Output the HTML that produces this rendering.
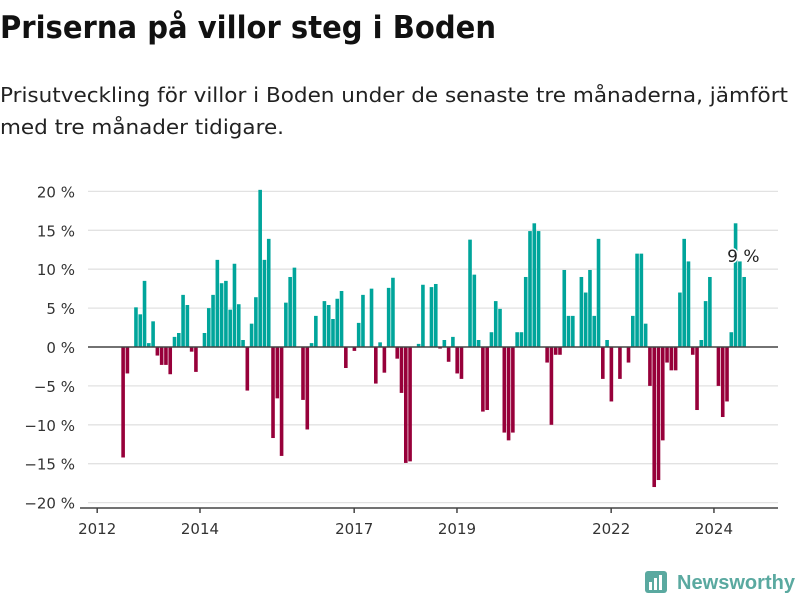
<!DOCTYPE html>
<html><head><meta charset="utf-8"><style>
body{margin:0;background:#fff;width:800px;height:600px;overflow:hidden;font-family:"Liberation Sans",sans-serif}
</style></head><body>
<svg width="800" height="600" viewBox="0 0 800 600">
<text x="0" y="38" font-size="31" font-weight="bold" fill="#111" textLength="496" lengthAdjust="spacingAndGlyphs" font-family="DejaVu Sans, sans-serif">Priserna på villor steg i Boden</text>
<text x="0" y="102" font-size="20" fill="#222" textLength="788" lengthAdjust="spacingAndGlyphs" font-family="DejaVu Sans, sans-serif">Prisutveckling för villor i Boden under de senaste tre månaderna, jämfört</text>
<text x="0" y="134" font-size="20" fill="#222" textLength="284" lengthAdjust="spacingAndGlyphs" font-family="DejaVu Sans, sans-serif">med tre månader tidigare.</text>
<g id="grid"></g><g id="bars"></g><g id="axes"></g>
<g>
<rect x="645" y="571" width="22" height="22" rx="3" fill="#5aa9a0"/>
<rect x="649" y="582" width="3" height="8" fill="#fff"/><rect x="654" y="578" width="3" height="12" fill="#fff"/><rect x="659" y="575" width="3" height="15" fill="#fff"/>
<text x="677" y="589" font-size="20" font-weight="bold" fill="#5aa9a0" textLength="118" lengthAdjust="spacingAndGlyphs" font-family="Liberation Sans, sans-serif">Newsworthy</text>
</g>
</svg>
<script>
const months=[5,6,8,9,10,11,12,13,14,15,16,17,18,19,20,21,22,24,25,26,27,28,29,30,31,32,33,34,35,36,37,38,39,40,41,42,43,44,45,47,48,49,50,52,53,54,55,56,57,59,60,61,63,64,65,66,67,68,69,70,71,72,74,75,77,78,79,80,81,82,83,84,86,87,88,89,90,91,92,93,94,95,96,97,98,99,100,101,102,104,105,106,107,108,109,110,112,113,114,115,116,117,118,119,121,123,124,125,126,127,128,129,130,131,132,133,134,135,136,137,138,139,140,141,142,144,145,146,147,148,149,150];
const values=[-14.2,-3.4,5.1,4.2,8.5,0.5,3.3,-1.1,-2.3,-2.3,-3.5,1.3,1.8,6.7,5.4,-0.6,-3.2,1.8,5.0,6.7,11.2,8.2,8.5,4.8,10.7,5.5,0.9,-5.6,3.0,6.4,20.2,11.2,13.9,-11.7,-6.6,-14.0,5.7,9.0,10.2,-6.8,-10.6,0.5,4.0,5.9,5.4,3.6,6.2,7.2,-2.7,-0.5,3.1,6.7,7.5,-4.7,0.6,-3.3,7.6,8.9,-1.5,-5.9,-14.9,-14.7,0.4,8.0,7.7,8.1,-0.2,0.9,-1.9,1.3,-3.4,-4.1,13.8,9.3,0.9,-8.3,-8.1,1.9,5.9,4.9,-11.0,-12.0,-11.0,1.9,1.9,9.0,14.9,15.9,14.9,-2.0,-10.0,-1.0,-1.0,9.9,4.0,4.0,9.0,7.0,9.9,4.0,13.9,-4.1,0.9,-7.0,-4.1,-2.0,4.0,12.0,12.0,3.0,-5.0,-18.0,-17.1,-12.0,-2.0,-3.0,-3.0,7.0,13.9,11.0,-1.0,-8.1,0.9,5.9,9.0,-5.0,-9.0,-7.0,1.9,15.9,11.0,9.0];
const yTicks=[20,15,10,5,0,-5,-10,-15,-20];
const xTickYears=[2012,2014,2017,2019,2022,2024];
const lastLabel="9 %";
const NS="http://www.w3.org/2000/svg";
function y(v){return 347-v*7.78;}
function x(m){return 97.2+m*4.283;}
function mk(t,a,p){const e=document.createElementNS(NS,t);for(const k in a)e.setAttribute(k,a[k]);p.appendChild(e);return e;}
const grid=document.getElementById('grid'),bars=document.getElementById('bars'),axes=document.getElementById('axes');
yTicks.forEach(v=>{
 if(v!==0){const l=mk('line',{x1:88,x2:778,y1:y(v),y2:y(v),stroke:'#e2e2e2','stroke-width':1.3},grid);
 
 }
 const t=mk('text',{x:75,y:y(v)+6,'text-anchor':'end','font-size':15,fill:'#333','font-family':'DejaVu Sans, sans-serif'},axes);
 t.textContent=(v<0?'−'+Math.abs(v):v)+' %';
 
 
});
months.forEach((m,i)=>{
 const v=values[i];
 const r=mk('rect',{x:x(m)+2.7,width:3.6,y:Math.min(y(v),y(0)),height:Math.abs(y(v)-y(0)),fill:v>=0?'#00a59b':'#97003a'},bars);
 
 
});
const z=mk('line',{x1:88,x2:778,y1:y(0),y2:y(0),stroke:'#444','stroke-width':1.6},axes);


const xa=mk('line',{x1:80,x2:778,y1:508,y2:508,stroke:'#444','stroke-width':1.6},axes);


xTickYears.forEach(yr=>{
 const px=x((yr-2012)*12);
 mk('line',{x1:px,x2:px,y1:508,y2:513,stroke:'#444','stroke-width':1.5},axes);
 const t=mk('text',{x:px,y:534,'text-anchor':'middle','font-size':15,fill:'#333','font-family':'DejaVu Sans, sans-serif'},axes);
 t.textContent=yr;
 
 
});
const lm=months[months.length-2];
const lab=mk('text',{x:x(lm)+8,y:262,'text-anchor':'middle','font-size':17,fill:'#222',stroke:'#fff','stroke-width':3,'paint-order':'stroke','font-family':'DejaVu Sans, sans-serif'},axes);
lab.textContent=lastLabel;


</script>
</body></html>
